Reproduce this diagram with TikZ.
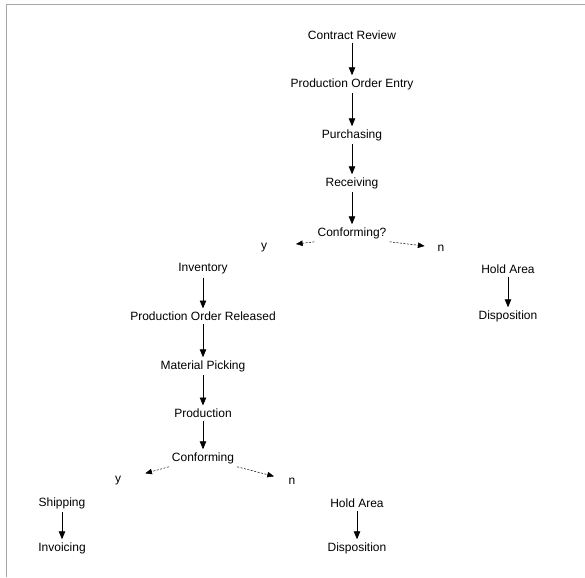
\documentclass[tikz,border=0pt]{standalone}
\usepackage{fontspec}
\setmainfont{Liberation Sans}
\usetikzlibrary{
	positioning				% relative placement
	, arrows				% triangle 45 tips
}

\begin{document}
\begin{tikzpicture}[x=1pt, y=-1pt
		, flowstep/.style={font=\fontsize{12}{14}\selectfont, inner sep=3pt}
		, branchlabel/.style={font=\fontsize{12}{14}\selectfont, inner sep=1pt}
		, basearrow/.style={>=triangle 45, line width=0.8pt}
		, flow/.style={basearrow, ->}
		, choice/.style={basearrow, ->, line width=0.5pt, dash pattern=on 2pt off 1.5pt}]

		\useasboundingbox (0,0) rectangle (585,577);

		%%% Frame
		\draw[gray!70, line width=0.8pt] (6,577) -- (6,4) -- (585,4);

		%%% Main column
		\node[flowstep] (contract) at (352,35) {Contract Review};
		\node[flowstep] (entry) at (352,84) {Production Order Entry};
		\node[flowstep] (purchasing) at (352,135) {Purchasing};
		\node[flowstep] (receiving) at (352,183) {Receiving};
		\node[flowstep] (conformfirst) at (352,233) {Conforming?};
		\node[branchlabel] (yesfirst) at (264,248) {y};
		\node[branchlabel] (nofirst) at (441,248) {n};

		%% Rejected material
		\node[flowstep] (holdfirst) at (508,269) {Hold Area};
		\node[flowstep] (dispfirst) at (508,316) {Disposition};

		%% Accepted material
		\node[flowstep] (inventory) at (203,269) {Inventory};
		\node[flowstep] (released) at (203,316) {Production Order Released};
		\node[flowstep] (picking) at (203,366) {Material Picking};
		\node[flowstep] (production) at (203,413) {Production};
		\node[flowstep] (conformsecond) at (203,458) {Conforming};
		\node[branchlabel] (yessecond) at (118,481) {y};
		\node[branchlabel] (nosecond) at (292,481) {n};

		%% Finished goods
		\node[flowstep] (shipping) at (62,503) {Shipping};
		\node[flowstep] (invoicing) at (62,548) {Invoicing};
		\node[flowstep] (holdsecond) at (357,503) {Hold Area};
		\node[flowstep] (dispsecond) at (357,548) {Disposition};

		%%% Connectors
		\draw[flow] (contract) -- (entry);
		\draw[flow] (entry) -- (purchasing);
		\draw[flow] (purchasing) -- (receiving);
		\draw[flow] (receiving) -- (conformfirst);
		\draw[choice, shorten >=28pt] (conformfirst.south west) -- (yesfirst);
		\draw[choice, shorten >=12pt] (conformfirst.south east) -- (nofirst);
		\draw[flow] (holdfirst) -- (dispfirst);
		\draw[flow] (inventory) -- (released);
		\draw[flow] (released) -- (picking);
		\draw[flow] (picking) -- (production);
		\draw[flow] (production) -- (conformsecond);
		\draw[choice, shorten >=24pt] (conformsecond.south west) -- (yessecond);
		\draw[choice, shorten >=14pt] (conformsecond.south east) -- (nosecond);
		\draw[flow] (shipping) -- (invoicing);
		\draw[flow] (holdsecond) -- (dispsecond);
	\end{tikzpicture}
\end{document}
